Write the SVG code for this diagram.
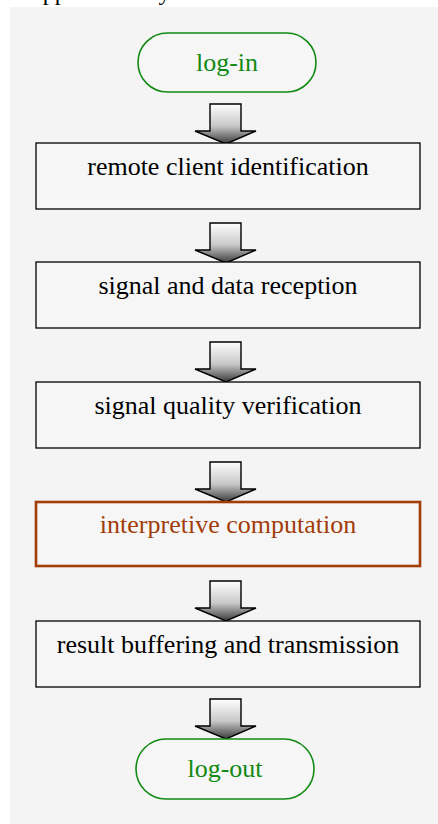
<svg xmlns="http://www.w3.org/2000/svg" width="438" height="824" viewBox="0 0 438 824">
<defs>
<style>
.bg{fill:#f4f4f4}
.box{fill:#f6f6f6;stroke:#000;stroke-width:1.3}
.hl{fill:#f6f6f6;stroke:#a23d0a;stroke-width:2.6}
.term{fill:#f6f6f6;stroke:#128a12;stroke-width:1.6}
.t{font-family:"Liberation Serif","Times New Roman",serif;font-size:26px;text-anchor:middle;fill:#000}
.tg{fill:#128a12}
.tb{fill:#a23d0a}
.arr{fill:url(#ag);stroke:#000;stroke-width:1.4;stroke-linejoin:miter}
</style>
<linearGradient id="ag" x1="0" y1="0" x2="0" y2="1">
<stop offset="0" stop-color="#ffffff"/>
<stop offset="0.55" stop-color="#c8c8c8"/>
<stop offset="1" stop-color="#3a3a3a"/>
</linearGradient>
<polygon id="arrow" points="0,0 31,0 31,27 46,27 16,40 -15,27 0,27"/>
</defs>
<rect width="438" height="824" fill="#ffffff"/>
<rect class="bg" x="10" y="7" width="428" height="817"/>
<text x="32" y="-0.5" font-family="Liberation Serif, serif" font-size="24" fill="#000">approximately</text>
<g id="connectors">
<use href="#arrow" class="arr" x="210" y="104"/>
<use href="#arrow" class="arr" x="210" y="223"/>
<use href="#arrow" class="arr" x="210" y="342"/>
<use href="#arrow" class="arr" x="210" y="462"/>
<use href="#arrow" class="arr" x="210" y="581"/>
<use href="#arrow" class="arr" x="210" y="699"/>
</g>
<g id="login">
<rect class="term" x="138" y="33" width="178" height="59" rx="29.5"/>
<text class="t tg" x="227" y="71">log-in</text>
</g>
<g id="identification">
<rect class="box" x="36" y="143" width="384" height="66"/>
<text class="t" x="228" y="175">remote client identification</text>
</g>
<g id="reception">
<rect class="box" x="36" y="262" width="384" height="66"/>
<text class="t" x="228" y="294">signal and data reception</text>
</g>
<g id="verification">
<rect class="box" x="36" y="382" width="384" height="66"/>
<text class="t" x="228" y="414">signal quality verification</text>
</g>
<g id="computation">
<rect class="hl" x="36" y="502" width="384" height="64"/>
<text class="t tb" x="228" y="533">interpretive computation</text>
</g>
<g id="buffering">
<rect class="box" x="36" y="621" width="384" height="66"/>
<text class="t" x="228" y="653">result buffering and transmission</text>
</g>
<g id="logout">
<rect class="term" x="136" y="739" width="178" height="60" rx="30"/>
<text class="t tg" x="225" y="777">log-out</text>
</g>
</svg>
